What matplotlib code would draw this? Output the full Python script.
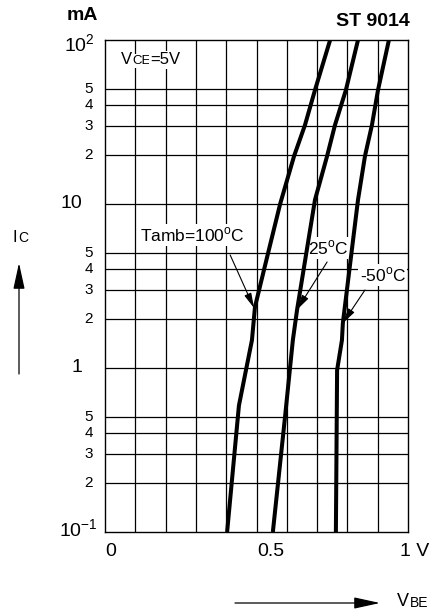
import matplotlib
matplotlib.use('Agg')
import matplotlib.pyplot as plt
import matplotlib.transforms as mtrans

plt.rcParams['font.family'] = ['Liberation Sans', 'DejaVu Sans']
plt.rcParams['mathtext.fontset'] = 'custom'
plt.rcParams['mathtext.rm'] = 'Liberation Sans'

# curves (VBE in V, IC in mA)
vbe_100 = [0.403, 0.442, 0.485, 0.495, 0.538, 0.578, 0.624, 0.660, 0.693, 0.743]
ic_100 = [0.1, 0.59, 1.48, 2.36, 5.0, 10.0, 19.6, 30.3, 49.5, 100.0]
vbe_25 = [0.554, 0.594, 0.620, 0.634, 0.693, 0.733, 0.759, 0.795, 0.835]
ic_25 = [0.1, 0.5, 1.48, 2.27, 10.6, 19.6, 30.3, 49.5, 100.0]
vbe_m50 = [0.762, 0.766, 0.782, 0.785, 0.835, 0.858, 0.881, 0.901, 0.937]
ic_m50 = [0.1, 0.97, 1.48, 1.88, 10.6, 19.6, 30.3, 49.5, 100.0]

x_grid = [0.1, 0.2, 0.3, 0.4, 0.5, 0.6, 0.7, 0.8, 0.9]
y_grid = [0.2, 0.3, 0.4, 0.5, 1, 2, 3, 4, 5, 10, 20, 30, 40, 50]
y_major = [1, 10]
y_minor = [0.2, 0.3, 0.4, 0.5, 2, 3, 4, 5, 20, 30, 40, 50]
y_minor_txt = ['2', '3', '4', '5', '2', '3', '4', '5', '2', '3', '4', '5']

fig = plt.figure(figsize=(4.33, 6.16), dpi=100)
ax = fig.add_axes([105 / 433, 1 - 532 / 616, 303 / 433, 492 / 616])
ax.set_xlim(0, 1)
ax.set_ylim(0.1, 100)
ax.set_yscale('log')

for v in x_grid:
    ax.axvline(v, color='black', lw=0.9, zorder=1)
for v in y_grid:
    ax.axhline(v, color='black', lw=0.9, zorder=1)
for s in ax.spines.values():
    s.set_linewidth(1.0)
    s.set_zorder(6)
ax.set_xticks([])
ax.set_yticks([])
ax.minorticks_off()

for vv, ii in [(vbe_100, ic_100), (vbe_25, ic_25), (vbe_m50, ic_m50)]:
    ax.plot(vv, ii, color='black', lw=2.9, zorder=5, solid_capstyle='butt')

# y labels
tr = mtrans.blended_transform_factory(ax.transAxes, ax.transData)
for v in y_major:
    ax.text(-0.076, v, str(v), transform=tr, ha='right', va='center', fontsize=14)
for v, t in zip(y_minor, y_minor_txt):
    ax.text(-0.040, v, t, transform=tr, ha='right', va='center', fontsize=11)
fig.text(95 / 433, 1 - 45 / 616, r'10$^{\mathregular{2}}$', ha='right', va='center', fontsize=14)
fig.text(98 / 433, 1 - 530 / 616, r'10$^{\mathregular{-1}}$', ha='right', va='center', fontsize=14)

# x labels
fig.text(105 / 433, 1 - 552 / 616, '0', ha='left', va='center', fontsize=14)
fig.text(257 / 433, 1 - 552 / 616, '0.5', ha='left', va='center', fontsize=14)
fig.text(400 / 433, 1 - 552 / 616, '1 V', ha='left', va='center', fontsize=14)

fig.text(67 / 433, 1 - 16 / 616, 'mA', ha='left', va='center', fontsize=14, fontweight='bold')
fig.text(410 / 433, 1 - 22 / 616, 'ST 9014', ha='right', va='center', fontsize=14, fontweight='bold')

box = dict(facecolor='white', edgecolor='none', pad=1.0)
fig.text(121 / 433, 1 - 60 / 616, 'V', ha='left', va='center', fontsize=12, bbox=box, zorder=4)
fig.text(132 / 433, 1 - 61 / 616, 'CE', ha='left', va='center', fontsize=9.5, bbox=box, zorder=4)
fig.text(150 / 433, 1 - 60 / 616, '=5V', ha='left', va='center', fontsize=12, bbox=box, zorder=4)

ax.text(0.288, 6.47, r'Tamb=100$^{\mathregular{o}}$C', ha='center', va='center',
        fontsize=12.5, bbox=box, zorder=4)
ax.text(0.736, 5.4, r'25$^{\mathregular{o}}$C', ha='center', va='center',
        fontsize=12.5, bbox=box, zorder=4)
ax.text(0.917, 3.69, r'-50$^{\mathregular{o}}$C', ha='center', va='center',
        fontsize=12.5, bbox=box, zorder=4)

arrow = dict(arrowstyle='-|>,head_length=0.9,head_width=0.22', color='black', lw=0.8,
             shrinkA=0, shrinkB=0)
ax.annotate('', xy=(0.492, 2.32), xytext=(0.413, 4.89), arrowprops=arrow, zorder=7)
ax.annotate('', xy=(0.634, 2.27), xytext=(0.733, 4.43), arrowprops=arrow, zorder=7)
ax.annotate('', xy=(0.785, 1.88), xytext=(0.858, 2.99), arrowprops=arrow, zorder=7)

# axis labels with arrows
fig.text(12 / 433, 1 - 237 / 616, 'I', ha='left', va='center', fontsize=12)
fig.text(18 / 433, 1 - 238 / 616, 'C', ha='left', va='center', fontsize=10)
big = dict(arrowstyle='-|>,head_length=1.6,head_width=0.35', color='black', lw=0.9,
           shrinkA=0, shrinkB=0)
ax.annotate('', xy=(19 / 433, 1 - 263 / 616), xytext=(19 / 433, 1 - 374 / 616),
            xycoords='figure fraction', textcoords='figure fraction', arrowprops=big)
ax.annotate('', xy=(380 / 433, 1 - 603 / 616), xytext=(235 / 433, 1 - 603 / 616),
            xycoords='figure fraction', textcoords='figure fraction', arrowprops=big)
fig.text(397 / 433, 1 - 602 / 616, 'V', ha='left', va='center', fontsize=13)
fig.text(410 / 433, 1 - 603 / 616, 'BE', ha='left', va='center', fontsize=10)

fig.savefig('out.png', dpi=100)
